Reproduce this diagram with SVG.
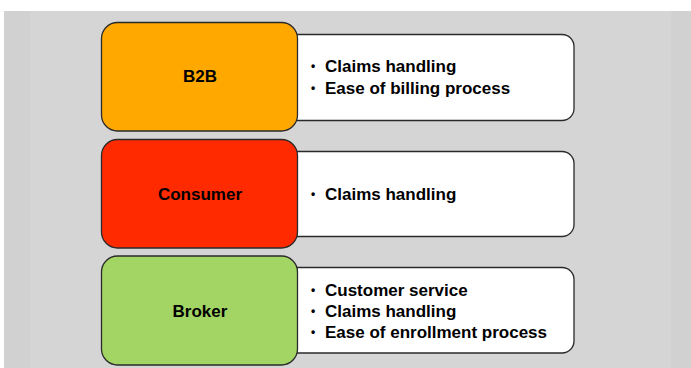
<svg xmlns="http://www.w3.org/2000/svg" width="691" height="368" viewBox="0 0 691 368">
<style>
.key{stroke:#2a2a2a;stroke-width:1.3}
.det{fill:#ffffff;stroke:#2a2a2a;stroke-width:1.3}
.lab{font-family:"Liberation Sans",Arial,sans-serif;font-weight:bold;font-size:17px;fill:#000}
.bul{font-size:12px}
.mid{text-anchor:middle}
</style>
<rect x="0" y="0" width="691" height="368" fill="#ffffff"/>
<rect x="4" y="11" width="687" height="357" fill="#d1d1d2"/>
<rect x="30" y="11" width="641" height="357" fill="#d5d5d5"/>
<g id="b2b">
<rect class="det" x="260" y="34.5" width="314" height="86" rx="12"/>
<rect class="key" x="101.5" y="22.5" width="196" height="108.5" rx="16" fill="#ffa800"/>
<text class="lab mid" x="200" y="82">B2B</text>
<text class="lab"><tspan class="bul" x="311" y="70">•</tspan><tspan x="325" y="72">Claims handling</tspan><tspan class="bul" x="311" y="92">•</tspan><tspan x="325" y="94">Ease of billing process</tspan></text>
</g>
<g id="consumer">
<rect class="det" x="260" y="151.5" width="314" height="85" rx="12"/>
<rect class="key" x="101.5" y="139.5" width="196" height="108.5" rx="16" fill="#ff2a00"/>
<text class="lab mid" x="200" y="200">Consumer</text>
<text class="lab"><tspan class="bul" x="311" y="198">•</tspan><tspan x="325" y="200">Claims handling</tspan></text>
</g>
<g id="broker">
<rect class="det" x="260" y="267.5" width="314" height="85.5" rx="12"/>
<rect class="key" x="101.5" y="256" width="196" height="109" rx="16" fill="#a2d563"/>
<text class="lab mid" x="200" y="317">Broker</text>
<text class="lab"><tspan class="bul" x="311" y="294">•</tspan><tspan x="325" y="296">Customer service</tspan><tspan class="bul" x="311" y="315">•</tspan><tspan x="325" y="317">Claims handling</tspan><tspan class="bul" x="311" y="336">•</tspan><tspan x="325" y="338">Ease of enrollment process</tspan></text>
</g>
<g id="connectors"></g>
</svg>
